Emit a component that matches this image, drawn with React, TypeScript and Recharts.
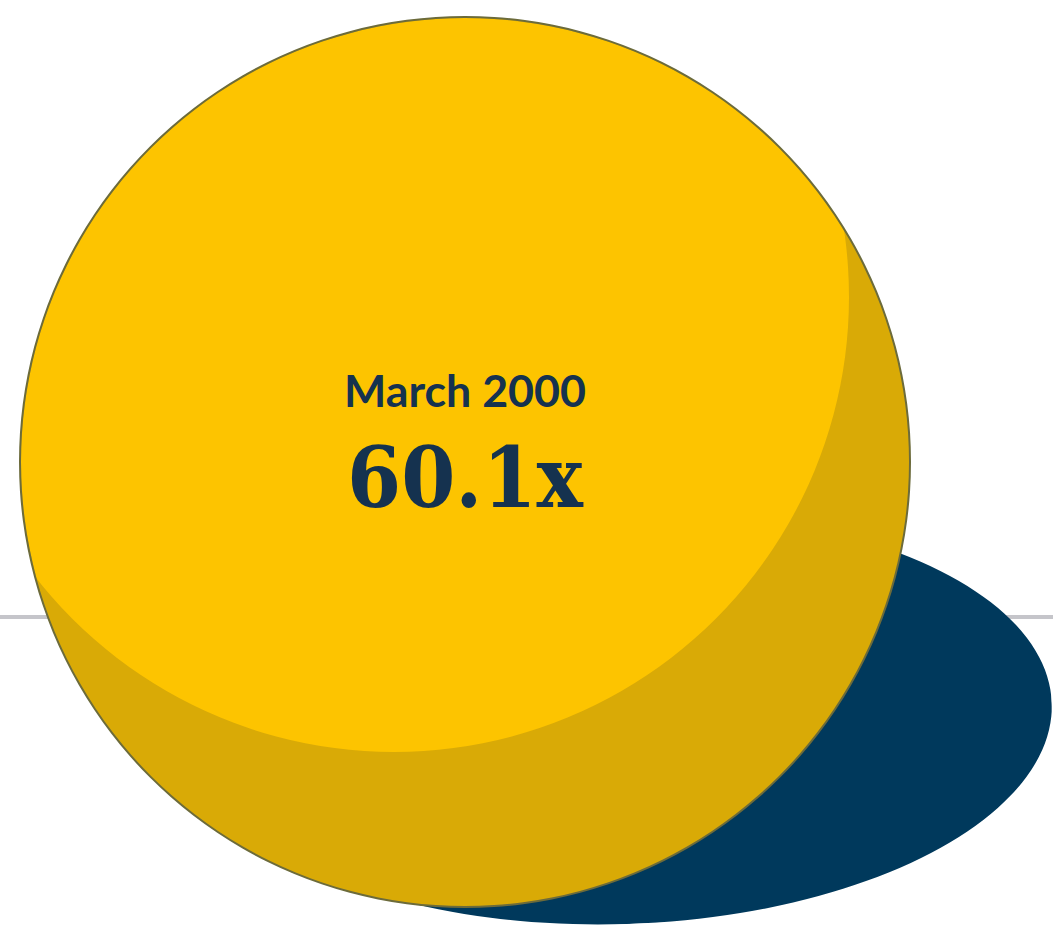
import React from 'react';
import { PieChart, Pie, Cell, Label } from 'recharts';

// one valuation point, shown as a ball
const periods = ['March 2000'];
const multiples = [60.1];

const W = 1053;
const H = 928;
const NO_MARGIN = { top: 0, right: 0, bottom: 0, left: 0 };

const BALL = { cx: 465, cy: 462, r: 445 };
const GLOW = { cx: 394, cy: 297, r: 455 };
const SHADOW = { cx: 622, cy: 718, rx: 430, ry: 206, tilt: -2 };

const COLORS = {
  light: '#fdc400',
  dark: '#d9aa06',
  edge: '#6c6b3b',
  shadow: '#00395c',
  text: '#15324f',
  rule: '#c5c5ca',
};

const data = periods.map((period, i) => ({ period, multiple: multiples[i] }));

const layer: React.CSSProperties = { position: 'absolute', left: 0, top: 0 };

function CenterText(props: any) {
  const vb = props.viewBox || {};
  const cx = vb.cx ?? BALL.cx;
  const cy = vb.cy ?? BALL.cy;
  const d = data[0];
  return (
    <g>
      <text
        x={cx}
        y={cy - 55}
        textAnchor="middle"
        fill={COLORS.text}
        style={{ fontFamily: 'Lato, sans-serif', fontSize: 44, fontWeight: 700 }}
        textLength={242}
        lengthAdjust="spacingAndGlyphs"
      >
        {d.period}
      </text>
      <text
        x={cx}
        y={cy + 45}
        textAnchor="middle"
        fill={COLORS.text}
        style={{ fontFamily: "'DejaVu Serif', serif", fontSize: 84, fontWeight: 700 }}
        textLength={236}
        lengthAdjust="spacingAndGlyphs"
      >
        {`${d.multiple.toFixed(1)}x`}
      </text>
    </g>
  );
}

export default function App() {
  const size = SHADOW.rx * 2;
  return (
    <div style={{ position: 'absolute', left: 0, top: 0, width: W, height: H, overflow: 'hidden', background: '#fff' }}>
      {/* baseline rule */}
      <div style={{ ...layer, top: 615, width: W, height: 4, background: COLORS.rule }} />

      {/* shadow: a circle squashed into a tilted ellipse */}
      <div
        style={{
          ...layer,
          left: SHADOW.cx - SHADOW.rx,
          top: SHADOW.cy - SHADOW.rx,
          width: size,
          height: size,
          transform: `rotate(${SHADOW.tilt}deg) scaleY(${SHADOW.ry / SHADOW.rx})`,
          transformOrigin: '50% 50%',
        }}
      >
        <PieChart width={size} height={size} margin={NO_MARGIN}>
          <Pie
            data={data}
            dataKey="multiple"
            nameKey="period"
            cx={SHADOW.rx}
            cy={SHADOW.rx}
            outerRadius={SHADOW.rx}
            stroke="none"
            isAnimationActive={false}
          >
            {data.map((d) => <Cell key={d.period} fill={COLORS.shadow} />)}
          </Pie>
        </PieChart>
      </div>

      {/* ball body, darker rim */}
      <div style={layer}>
        <PieChart width={W} height={H} margin={NO_MARGIN}>
          <Pie
            data={data}
            dataKey="multiple"
            nameKey="period"
            cx={BALL.cx}
            cy={BALL.cy}
            outerRadius={BALL.r}
            stroke="none"
            isAnimationActive={false}
          >
            {data.map((d) => <Cell key={d.period} fill={COLORS.dark} />)}
          </Pie>
        </PieChart>
      </div>

      {/* highlight, clipped to the ball */}
      <div style={{ ...layer, width: W, height: H, clipPath: `circle(${BALL.r - 1}px at ${BALL.cx}px ${BALL.cy}px)` }}>
        <PieChart width={W} height={H} margin={NO_MARGIN}>
          <Pie
            data={data}
            dataKey="multiple"
            nameKey="period"
            cx={GLOW.cx}
            cy={GLOW.cy}
            outerRadius={GLOW.r}
            stroke="none"
            isAnimationActive={false}
          >
            {data.map((d) => <Cell key={d.period} fill={COLORS.light} />)}
          </Pie>
        </PieChart>
      </div>

      {/* outline and labels */}
      <div style={layer}>
        <PieChart width={W} height={H} margin={NO_MARGIN}>
          <Pie
            data={data}
            dataKey="multiple"
            nameKey="period"
            cx={BALL.cx}
            cy={BALL.cy}
            innerRadius={BALL.r - 1}
            outerRadius={BALL.r + 1}
            stroke="none"
            isAnimationActive={false}
          >
            {data.map((d) => <Cell key={d.period} fill={COLORS.edge} />)}
            <Label position="center" content={CenterText} />
          </Pie>
        </PieChart>
      </div>
    </div>
  );
}
